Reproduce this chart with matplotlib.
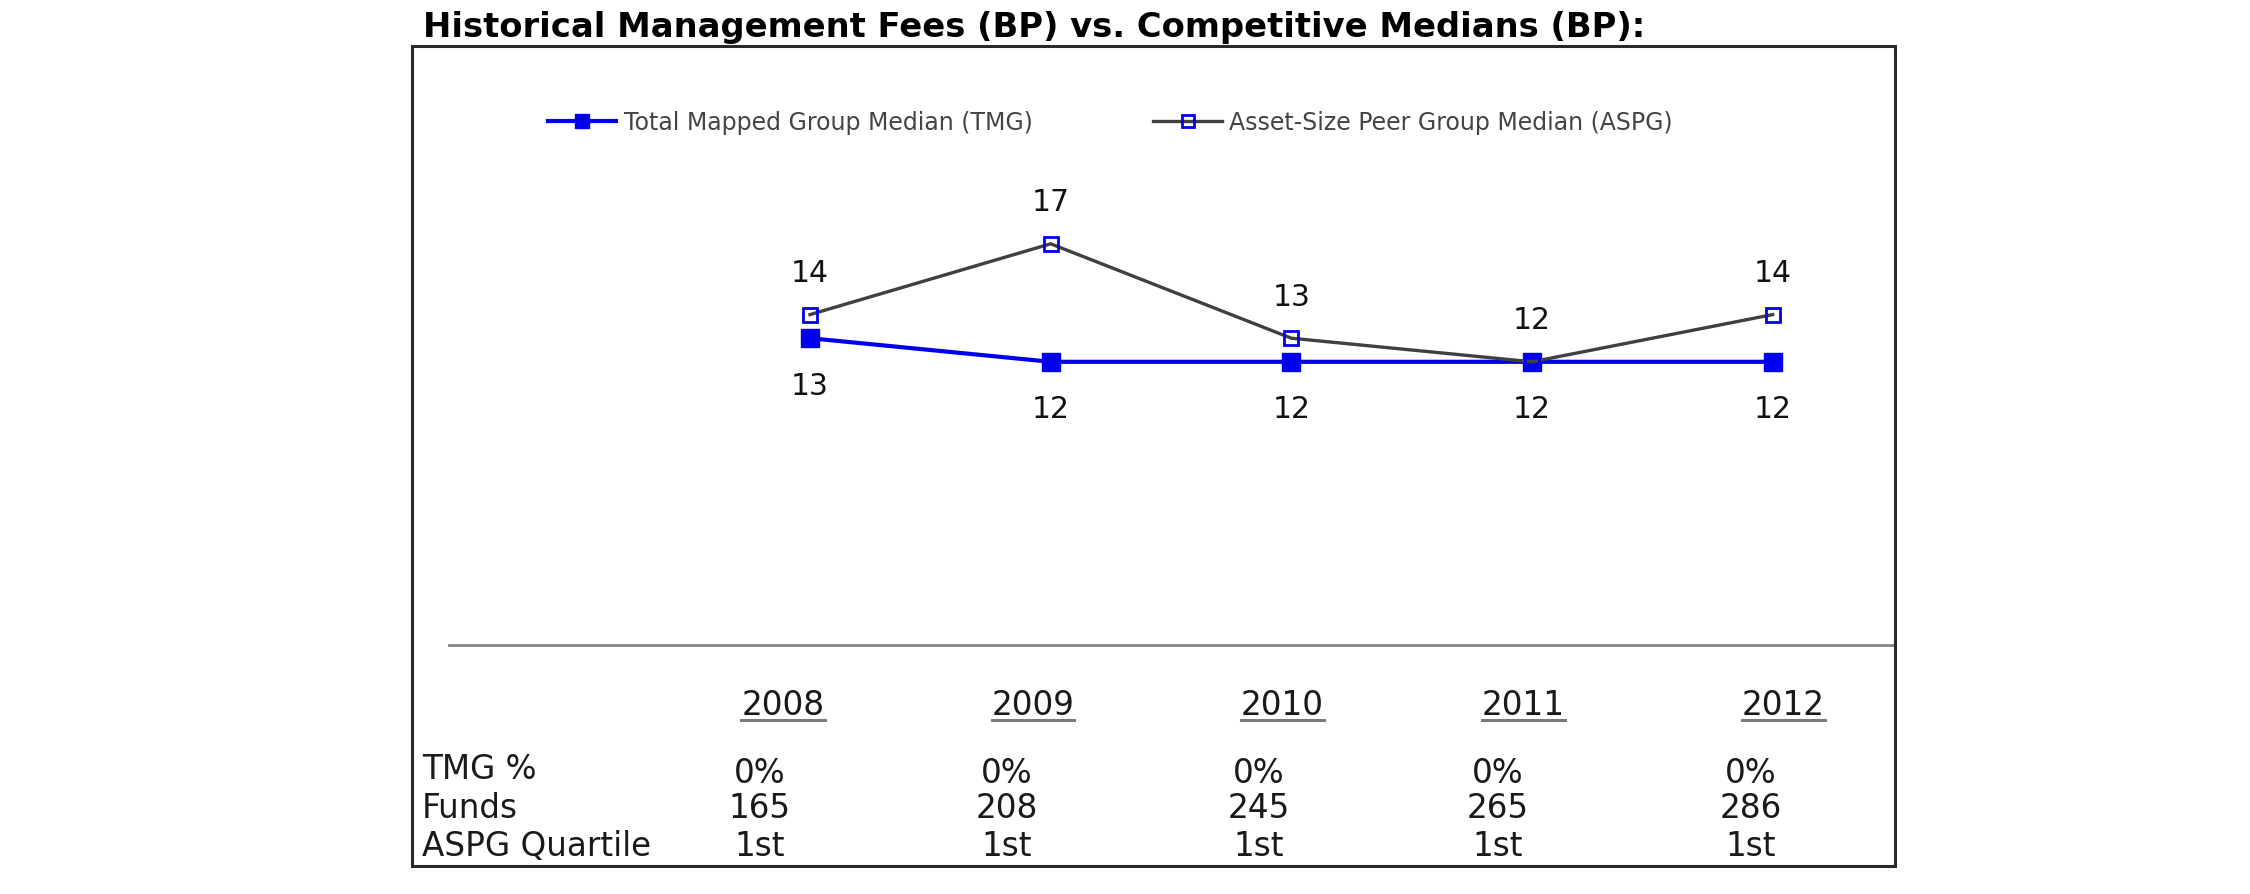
import numpy as np
import matplotlib
matplotlib.use("Agg")
import matplotlib.pyplot as plt
from matplotlib.lines import Line2D
from matplotlib.patches import Rectangle

plt.rcParams["font.family"] = "DejaVu Sans"

# data
years = ["2008", "2009", "2010", "2011", "2012"]
tmg = [13, 12, 12, 12, 12]
aspg = [14, 17, 13, 12, 14]
tmg_pct = ["0%", "0%", "0%", "0%", "0%"]
funds = [165, 208, 245, 265, 286]
aspg_quartile = ["1st", "1st", "1st", "1st", "1st"]
row_labels = ["TMG %", "Funds", "ASPG Quartile"]

W, H = 2250, 895
fig = plt.figure(figsize=(W / 100, H / 100), dpi=100)

def fx(px):
    return px / W

def fy(py):
    return 1 - py / H

# outer frame
fig.patches.append(Rectangle((fx(412), fy(867)), fx(1895) - fx(412), fy(47) - fy(867),
                             transform=fig.transFigure, fill=False, ec="#2a2a2a", lw=2.2))

# title
fig.text(fx(423), fy(37), "Historical Management Fees (BP) vs. Competitive Medians (BP):",
         fontsize=24.3, fontweight="bold", color="black", va="baseline", ha="left")

# chart
ax = fig.add_axes([fx(449), fy(646), fx(1893) - fx(449), fy(174) - fy(646)])
x = np.arange(len(years))
ax.plot(x, tmg, "-s", color="#0000ee", lw=3.0, ms=12.5, mfc="#0000ee", mec="#0000ee", mew=1,
        label="Total Mapped Group Median (TMG)", zorder=3)
ax.plot(x, aspg, "-s", color="#404040", lw=2.4, ms=10.5, mfc="none", mec="#0000ee", mew=2,
        label="Asset-Size Peer Group Median (ASPG)", zorder=4)
for xi, v in zip(x, aspg):
    ax.annotate(str(v), (xi, v), xytext=(0, 24), textcoords="offset points",
                ha="center", va="baseline", fontsize=21.5, color="#111111")
for xi, v in zip(x, tmg):
    ax.annotate(str(v), (xi, v), xytext=(0, -40), textcoords="offset points",
                ha="center", va="baseline", fontsize=21.5, color="#111111")
ax.set_xlim(-1.5, 4.5)
ax.set_ylim(0, 20)
ax.set_xticks([])
ax.set_yticks([])
for s in ["top", "left", "right"]:
    ax.spines[s].set_visible(False)
ax.spines["bottom"].set_color("#858585")
ax.spines["bottom"].set_linewidth(2.0)
ax.patch.set_alpha(0)

# legend
handles, labels = ax.get_legend_handles_labels()
fig.legend(handles, labels, loc="center left", bbox_to_anchor=(fx(548), fy(123)),
           ncol=2, frameon=False, fontsize=17, labelcolor="#444444",
           handlelength=2.9, handletextpad=0.32, columnspacing=5.1,
           borderpad=0, borderaxespad=0, markerscale=0.85)

# table below the chart
year_x = [783, 1033, 1282, 1523, 1783]
val_x = [760, 1007, 1259, 1498, 1751]
year_texts = []
for xp, yr in zip(year_x, years):
    t = fig.text(fx(xp), fy(715), yr, fontsize=23.5, ha="center", va="baseline", color="#1a1a1a")
    year_texts.append(t)

rows = [tmg_pct, [str(f) for f in funds], aspg_quartile]
row_base = [783, 818, 856]
for lab, vals, yb in zip(row_labels, rows, row_base):
    fig.text(fx(422), fy(yb - 4 if lab == "TMG %" else yb), lab, fontsize=23.5, ha="left",
             va="baseline", color="#1a1a1a")
    for xp, v in zip(val_x, vals):
        fig.text(fx(xp), fy(yb), v, fontsize=23.5, ha="center", va="baseline", color="#1a1a1a")

# underline the years
fig.canvas.draw()
r = fig.canvas.get_renderer()
for t in year_texts:
    bb = t.get_window_extent(r)
    fig.lines.append(Line2D([bb.x0 / W, bb.x1 / W], [fy(721), fy(721)],
                            transform=fig.transFigure, color="#7a7a7a", lw=2.2))

fig.savefig("out.png", dpi=100, facecolor="white")
